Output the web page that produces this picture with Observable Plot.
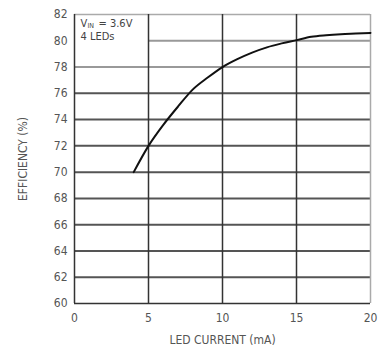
<!DOCTYPE html>
<html><head><meta charset="utf-8">
<script src="https://cdn.jsdelivr.net/npm/d3@7"></script>
<script src="https://cdn.jsdelivr.net/npm/@observablehq/plot@0.6"></script>
<style>body{margin:0;background:#fff}</style>
</head><body><div id="c"></div>
<script>
const current = [4, 5, 6, 7, 8, 9, 10, 11, 12, 13, 14, 15, 16, 17, 18, 19, 20];
const efficiency = [70, 72, 73.6, 75, 76.3, 77.2, 78, 78.6, 79.1, 79.5, 79.8, 80.05, 80.3, 80.42, 80.5, 80.55, 80.6];
const xTicks = [0, 5, 10, 15, 20];
const yTicks = [60, 62, 64, 66, 68, 70, 72, 74, 76, 78, 80, 82];
const data = current.map((c, i) => ({c, e: efficiency[i]}));
const font = "'DejaVu Sans Condensed', 'Liberation Sans Narrow', sans-serif";
const plot = Plot.plot({
  width: 385, height: 349,
  marginLeft: 74, marginRight: 15, marginTop: 14, marginBottom: 46,
  style: {fontFamily: font, fontSize: "12px", color: "#555", background: "#fff"},
  x: {domain: [0, 20], ticks: xTicks, tickSize: 0, tickPadding: 10, label: "LED CURRENT (mA)", labelArrow: "none", labelAnchor: "center", labelOffset: 40},
  y: {domain: [60, 82], ticks: yTicks, tickSize: 0, tickPadding: 7, label: "EFFICIENCY (%)", labelArrow: "none", labelAnchor: "center", labelOffset: 56},
  marks: [
    Plot.ruleY(yTicks.slice(1, -3), {stroke: "#555", strokeWidth: 2}),
    Plot.ruleY([78], {stroke: "#999", strokeWidth: 2}),
    Plot.ruleY([80], {x1: 5, x2: 20, stroke: "#999", strokeWidth: 2}),
    Plot.ruleY([82], {stroke: "#aaa", strokeWidth: 1.5}),
    Plot.ruleX([5, 10, 15], {stroke: "#333", strokeWidth: 1.5}),
    Plot.ruleX([20], {stroke: "#aaa", strokeWidth: 1.5}),
    Plot.ruleX([0], {stroke: "#333", strokeWidth: 1.5}),
    Plot.ruleY([60], {stroke: "#333", strokeWidth: 1.5}),
    Plot.line(data, {x: "c", y: "e", curve: "monotone-x", stroke: "#111", strokeWidth: 2}),
    Plot.text(["V"], {frameAnchor: "top-left", dx: 6, dy: 5, text: d => d, textAnchor: "start", fontSize: 11, fill: "#444"}),
    Plot.text(["IN"], {frameAnchor: "top-left", dx: 13, dy: 9, text: d => d, textAnchor: "start", fontSize: 7, fill: "#444"}),
    Plot.text(["= 3.6V"], {frameAnchor: "top-left", dx: 24, dy: 5, text: d => d, textAnchor: "start", fontSize: 11, fill: "#444"}),
    Plot.text(["4 LEDs"], {frameAnchor: "top-left", dx: 6, dy: 18, text: d => d, textAnchor: "start", fontSize: 11, fill: "#444"})
  ]
});
document.getElementById("c").appendChild(plot);
</script>
</body></html>
